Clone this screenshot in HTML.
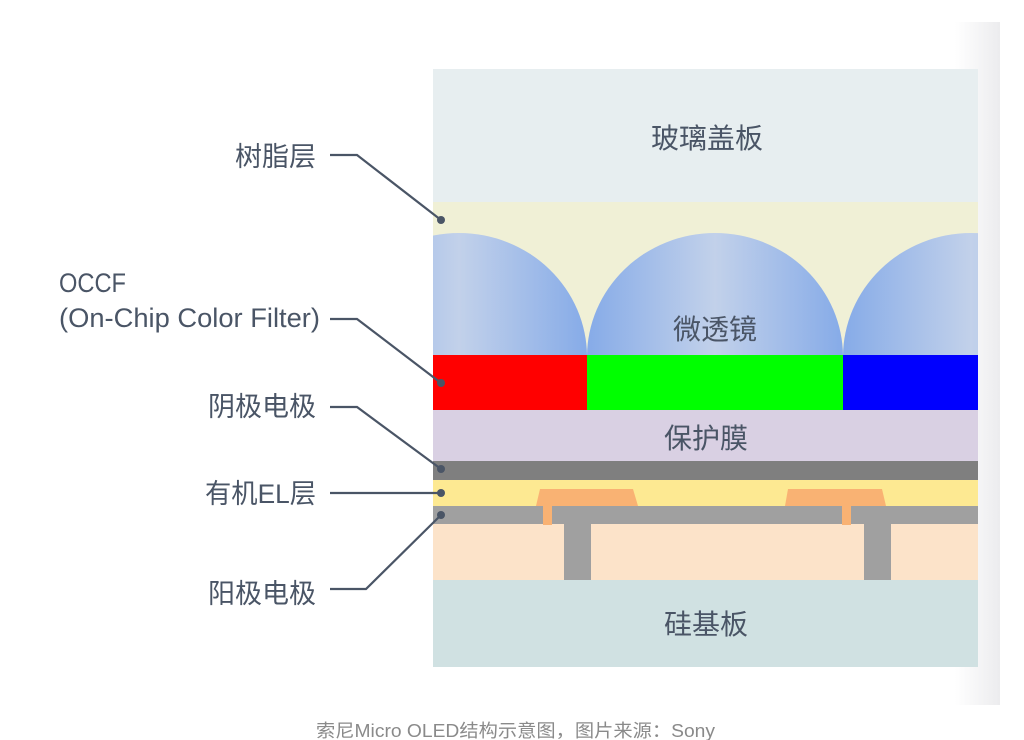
<!DOCTYPE html>
<html><head><meta charset="utf-8"><style>
html,body{margin:0;padding:0;background:#fff;width:1024px;height:740px;overflow:hidden}
</style></head><body>
<svg width="1024" height="740" viewBox="0 0 1024 740" xmlns="http://www.w3.org/2000/svg" font-family="'Liberation Sans','Noto Sans CJK SC',sans-serif">
<defs>
<linearGradient id="side" x1="0" x2="1" y1="0" y2="0"><stop offset="0" stop-color="#fff"/><stop offset="1" stop-color="#ececee"/></linearGradient>
<linearGradient id="lens" x1="0" x2="1" y1="0" y2="0"><stop offset="0" stop-color="#86abe8"/><stop offset="0.5" stop-color="#c2d1ea"/><stop offset="1" stop-color="#86abe8"/></linearGradient>
<clipPath id="c"><rect x="433" y="202" width="545" height="153"/></clipPath>
</defs>
<rect x="955" y="22" width="45" height="683" fill="url(#side)"/>
<rect x="433" y="69" width="545" height="133" fill="#e7eef0"/>
<rect x="433" y="202" width="545" height="153" fill="#f0f0d6"/>
<g clip-path="url(#c)">
<ellipse cx="459" cy="357" rx="128" ry="124" fill="url(#lens)"/>
<ellipse cx="715" cy="357" rx="128" ry="124" fill="url(#lens)"/>
<ellipse cx="971" cy="357" rx="128" ry="124" fill="url(#lens)"/>
</g>
<rect x="433" y="355" width="154" height="55" fill="#ff0000"/>
<rect x="587" y="355" width="256" height="55" fill="#00ff00"/>
<rect x="843" y="355" width="135" height="55" fill="#0000ff"/>
<rect x="433" y="410" width="545" height="51" fill="#d9d0e3"/>
<rect x="433" y="461" width="545" height="19" fill="#7f7f7f"/>
<rect x="433" y="480" width="545" height="26" fill="#fde992"/>
<rect x="433" y="506" width="545" height="18" fill="#a0a0a0"/>
<rect x="433" y="524" width="545" height="56" fill="#fce3c9"/>
<rect x="433" y="580" width="545" height="87" fill="#d0e1e2"/>
<polygon points="540,489 633,489 638,506 536,506" fill="#f9b273"/>
<rect x="543" y="506" width="9" height="19" fill="#f9b273"/>
<rect x="564" y="524" width="27" height="56" fill="#a0a0a0"/>
<polygon points="788,489 882,489 886,506 785,506" fill="#f9b273"/>
<rect x="842" y="506" width="9" height="19" fill="#f9b273"/>
<rect x="864" y="524" width="27" height="56" fill="#a0a0a0"/>
<g fill="#4a5566" font-size="28" text-anchor="middle">
<text x="707" y="148">玻璃盖板</text>
<text x="715" y="339">微透镜</text>
<text x="706" y="448">保护膜</text>
<text x="706" y="634">硅基板</text>
</g>
<g fill="#4a5566" font-size="27" text-anchor="end">
<text x="316" y="166">树脂层</text>
<text x="316" y="416">阴极电极</text>
<text x="316" y="590" dy="13">阳极电极</text>
</g>
<g fill="#4a5566" font-size="27">
<text x="205" y="503" textLength="111" lengthAdjust="spacingAndGlyphs">有机EL层</text>
<text x="59" y="292" textLength="67" lengthAdjust="spacingAndGlyphs">OCCF</text>
<text x="59" y="327" textLength="261" lengthAdjust="spacingAndGlyphs">(On-Chip Color Filter)</text>
</g>
<g stroke="#4a5566" stroke-width="2.2" fill="none">
<polyline points="330,155 357,155 441,220"/>
<polyline points="330,319 357,319 441,383"/>
<polyline points="330,407 357,407 441,469"/>
<polyline points="330,493 441,493"/>
<polyline points="330,589 366,589 441,515"/>
</g>
<g fill="#4a5566">
<circle cx="441" cy="220" r="4"/><circle cx="441" cy="383" r="4"/><circle cx="441" cy="469" r="4"/><circle cx="441" cy="493" r="4"/><circle cx="441" cy="515" r="4"/>
</g>
<text x="316" y="737" fill="#8a8a8a" font-size="18" textLength="399" lengthAdjust="spacingAndGlyphs">索尼Micro OLED结构示意图，图片来源：Sony</text>
</svg>
</body></html>
